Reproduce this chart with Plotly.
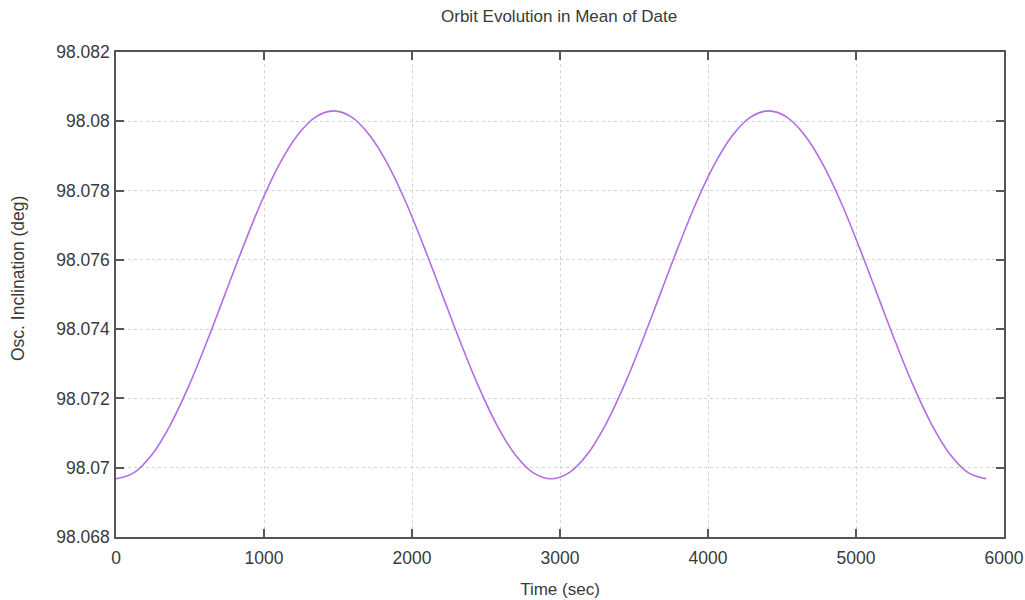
import plotly.graph_objects as go

time_sec = [0, 122.5, 245, 367.5, 490, 612.5, 735, 857.5, 980, 1102.5, 1225, 1347.5,
            1470, 1592.5, 1715, 1837.5, 1960, 2082.5, 2205, 2327.5, 2450, 2572.5, 2695, 2817.5,
            2940, 3062.5, 3185, 3307.5, 3430, 3552.5, 3675, 3797.5, 3920, 4042.5, 4165, 4287.5,
            4410, 4532.5, 4655, 4777.5, 4900, 5022.5, 5145, 5267.5, 5390, 5512.5, 5635, 5757.5,
            5880]
inclination_deg = [98.06968, 98.06986, 98.07039, 98.07124, 98.07234, 98.07362, 98.07499,
                   98.07636, 98.07765, 98.07875, 98.07959, 98.08012, 98.08030,
                   98.08012, 98.07959, 98.07875, 98.07765, 98.07636, 98.07499,
                   98.07362, 98.07234, 98.07124, 98.07039, 98.06986, 98.06968,
                   98.06986, 98.07039, 98.07124, 98.07234, 98.07362, 98.07499,
                   98.07636, 98.07765, 98.07875, 98.07959, 98.08012, 98.08030,
                   98.08012, 98.07959, 98.07875, 98.07765, 98.07636, 98.07499,
                   98.07362, 98.07234, 98.07124, 98.07039, 98.06986, 98.06968]

x_tick_vals = [0, 1000, 2000, 3000, 4000, 5000, 6000]
x_tick_text = ["0", "1000", "2000", "3000", "4000", "5000", "6000"]
y_tick_vals = [98.068, 98.070, 98.072, 98.074, 98.076, 98.078, 98.080, 98.082]
y_tick_text = ["98.068", "98.07", "98.072", "98.074", "98.076", "98.078", "98.08", "98.082"]

FONT = "Liberation Sans, Arial, sans-serif"
TXT = "#3a3a3a"
AX = "#555555"

fig = go.Figure()
fig.add_trace(go.Scatter(
    x=time_sec, y=inclination_deg, mode="lines",
    line=dict(color="rgb(180,108,230)", width=1.6, shape="spline", smoothing=1.0),
    showlegend=False, hoverinfo="x+y",
))

axis_common = dict(
    showline=True, linecolor=AX, linewidth=1.5, mirror="ticks",
    ticks="inside", ticklen=8, tickwidth=1.5, tickcolor=AX,
    showgrid=True, gridcolor="#d4d4d4", gridwidth=1, griddash="dot",
    zeroline=False, automargin=False,
    tickfont=dict(family=FONT, size=17.5, color=TXT),
)

fig.update_layout(
    width=1025, height=600, autosize=False,
    margin=dict(l=116, r=21, t=52, b=63, autoexpand=False),
    paper_bgcolor="white", plot_bgcolor="white",
    title=dict(text="Orbit Evolution in Mean of Date", x=0.5455, xanchor="center",
               y=1 - 16 / 600, yanchor="middle",
               font=dict(family=FONT, size=17, color=TXT)),
    xaxis=dict(range=[0, 6000], tickvals=x_tick_vals, ticktext=x_tick_text,
               ticklabelstandoff=4,
               title=dict(text="Time (sec)", font=dict(family=FONT, size=17, color=TXT), standoff=16),
               **axis_common),
    yaxis=dict(range=[98.068, 98.082], tickvals=y_tick_vals, ticktext=y_tick_text,
               ticklabelstandoff=1,
               **axis_common),
    annotations=[dict(
        text="Osc. Inclination (deg)", textangle=-90,
        xref="paper", yref="paper", x=(18 - 116) / 888, y=(537 - 279) / 485,
        xanchor="center", yanchor="middle", showarrow=False,
        font=dict(family=FONT, size=17.5, color=TXT),
    )],
)

fig.write_html("out.html")
